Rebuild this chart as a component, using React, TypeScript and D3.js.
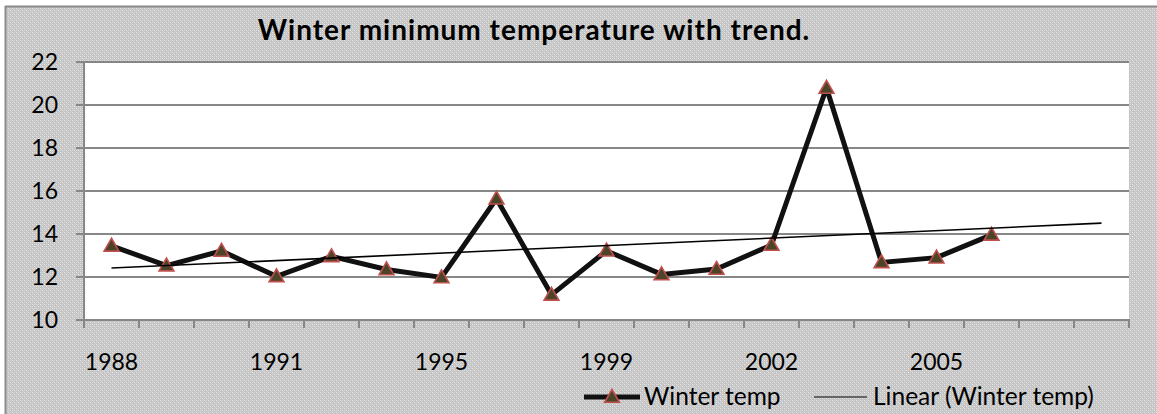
import React from "react";
import * as d3 from "d3";

const categories = ["1988","1989","1990","1991","1992","1993","1995","1996","1997","1999","2000","2001","2002","2003","2004","2005","2006","",""];
const winterTemp = [13.45, 12.53, 13.21, 12.03, 12.96, 12.35, 11.98, 15.64, 11.17, 13.22, 12.12, 12.37, 13.49, 20.79, 12.68, 12.9, 13.96];
const yTicks = [10, 12, 14, 16, 18, 20, 22];
const labelEvery = 3;
const title = "Winter minimum temperature with trend.";
const seriesName = "Winter temp";
const trendName = "Linear (Winter temp)";

const W = 1157, H = 414;
const plot = { left: 84, right: 1129, top: 62, bottom: 320 };
const FONT = "Lato, 'Open Sans', sans-serif";

export default function App() {
  const x = d3.scaleBand<number>().domain(d3.range(categories.length)).range([plot.left, plot.right]).paddingInner(0).paddingOuter(0);
  const cx = (i: number) => (x(i) as number) + x.bandwidth() / 2;
  const y = d3.scaleLinear().domain([10, 22]).range([plot.bottom, plot.top]);

  // least-squares trend, forward-projected to the last category
  const n = winterTemp.length;
  const xs = d3.range(n);
  const mx = d3.mean(xs) as number;
  const my = d3.mean(winterTemp) as number;
  const slope = d3.sum(xs, (i) => (i - mx) * (winterTemp[i] - my)) / d3.sum(xs, (i) => (i - mx) ** 2);
  const intercept = my - slope * mx;
  const trendPts: [number, number][] = [0, categories.length - 1].map((i) => [cx(i), y(intercept + slope * i)]);

  const line = d3.line<number>().x((_, i) => cx(i)).y((d) => y(d));
  const tri = d3.symbol().type(d3.symbolTriangle).size(95)();

  const axisColor = "#878787";
  const boundaries = d3.range(categories.length + 1).map((i) => i === categories.length ? plot.right : (x(i) as number));

  return (
    <svg width={W} height={H} style={{ position: "absolute", left: 0, top: 0, display: "block" }} fontFamily={FONT}>
      <defs>
        <pattern id="bgpat" width="4" height="4" patternUnits="userSpaceOnUse">
          <rect width="4" height="4" fill="#c2c2c2" />
          <rect x="0" y="0" width="1" height="1" fill="#e8e8e8" />
          <rect x="2" y="2" width="1" height="1" fill="#e8e8e8" />
          <rect x="2" y="0" width="1" height="1" fill="#d8d8d8" />
          <rect x="0" y="2" width="1" height="1" fill="#d8d8d8" />
          <rect x="1" y="1" width="1" height="1" fill="#d0d0d0" />
          <rect x="3" y="3" width="1" height="1" fill="#d0d0d0" />
        </pattern>
      </defs>
      <rect x={5} y={6} width={W} height={H} fill="url(#bgpat)" />
      <line x1={5.5} y1={6} x2={5.5} y2={H} stroke="#8a8a8a" strokeWidth={2} />
      <line x1={5} y1={6.5} x2={W} y2={6.5} stroke="#8a8a8a" strokeWidth={2} />

      <text x={534} y={40} textAnchor="middle" fontSize={28} letterSpacing={1} fontWeight="bold" fill="#000">{title}</text>

      <rect x={plot.left} y={plot.top} width={plot.right - plot.left} height={plot.bottom - plot.top} fill="#fff" />

      {yTicks.map((t) => (
        <g key={t}>
          <line x1={plot.left - 8} x2={plot.right} y1={y(t)} y2={y(t)} stroke={axisColor} strokeWidth={2} />
          <text x={58} y={y(t)} dy="0.36em" textAnchor="end" fontSize={23} fill="#000">{t}</text>
        </g>
      ))}
      <line x1={plot.left} x2={plot.left} y1={plot.top} y2={plot.bottom} stroke={axisColor} strokeWidth={2} />
      <line x1={plot.left - 8} x2={plot.right + 1} y1={plot.bottom} y2={plot.bottom} stroke={axisColor} strokeWidth={2} />
      {boundaries.map((bx, i) => (
        <line key={i} x1={bx} x2={bx} y1={plot.bottom} y2={plot.bottom + 8} stroke={axisColor} strokeWidth={2} />
      ))}
      {categories.map((c, i) => (i % labelEvery === 0 && c ? (
        <text key={i} x={cx(i)} y={370} textAnchor="middle" fontSize={23} fill="#000">{c}</text>
      ) : null))}

      <path d={line(winterTemp) as string} fill="none" stroke="#111" strokeWidth={5} strokeLinejoin="miter" />
      {winterTemp.map((v, i) => (
        <path key={i} d={tri as string} transform={`translate(${cx(i)},${y(v) + 1})`} fill="#4b4428" stroke="#c0504d" strokeWidth={1.6} />
      ))}
      <line x1={trendPts[0][0]} y1={trendPts[0][1]} x2={trendPts[1][0]} y2={trendPts[1][1]} stroke="#000" strokeWidth={1.6} />

      <g>
        <line x1={584} x2={640} y1={397} y2={397} stroke="#111" strokeWidth={5} />
        <path d={tri as string} transform="translate(612,398)" fill="#4b4428" stroke="#c0504d" strokeWidth={1.6} />
        <text x={644} y={405} fontSize={24.5} fill="#000">{seriesName}</text>
        <line x1={814} x2={867} y1={397} y2={397} stroke="#000" strokeWidth={1.2} />
        <text x={873} y={405} fontSize={24.5} fill="#000">{trendName}</text>
      </g>
    </svg>
  );
}
